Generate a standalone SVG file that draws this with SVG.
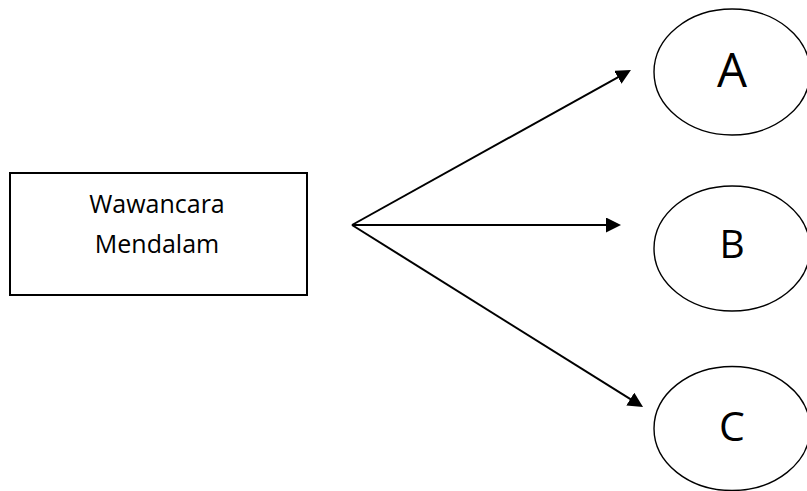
<svg xmlns="http://www.w3.org/2000/svg" width="807" height="491" viewBox="0 0 807 491">
<style>
  .box { fill: #ffffff; stroke: #000000; stroke-width: 2; }
  .oval { fill: #ffffff; stroke: #000000; stroke-width: 1.4; }
  .conn { stroke: #000000; stroke-width: 2; fill: none; marker-end: url(#arrow); }
  .lbl { font-family: "Open Sans", "Liberation Sans", sans-serif; fill: #000000; text-anchor: middle; }
</style>
<defs>
  <marker id="arrow" markerUnits="userSpaceOnUse" markerWidth="15" markerHeight="15" refX="2" refY="7.5" orient="auto">
    <path d="M0,0 L15,7.5 L0,15 z" fill="#000000"/>
  </marker>
</defs>
<rect width="807" height="491" fill="#ffffff"/>
<g id="wawancara">
  <rect class="box" x="10" y="173" width="297" height="122"/>
  <text class="lbl" x="157" y="213" font-size="25">Wawancara</text>
  <text class="lbl" x="157" y="253" font-size="25">Mendalam</text>
</g>
<g id="A">
  <ellipse class="oval" cx="732" cy="72" rx="78" ry="63"/>
  <text class="lbl" x="732" y="87" font-size="47.5">A</text>
</g>
<g id="B">
  <ellipse class="oval" cx="732" cy="248.5" rx="78" ry="62.5"/>
  <text class="lbl" x="732" y="258" font-size="39">B</text>
</g>
<g id="C">
  <ellipse class="oval" cx="732" cy="428.5" rx="78" ry="62"/>
  <text class="lbl" x="732" y="441" font-size="41">C</text>
</g>
<g id="connectors">
  <line class="conn" x1="352" y1="225" x2="619.6" y2="76.3"/>
  <line class="conn" x1="352" y1="225" x2="608" y2="225"/>
  <line class="conn" x1="352" y1="225" x2="632" y2="400.1"/>
</g>
</svg>
